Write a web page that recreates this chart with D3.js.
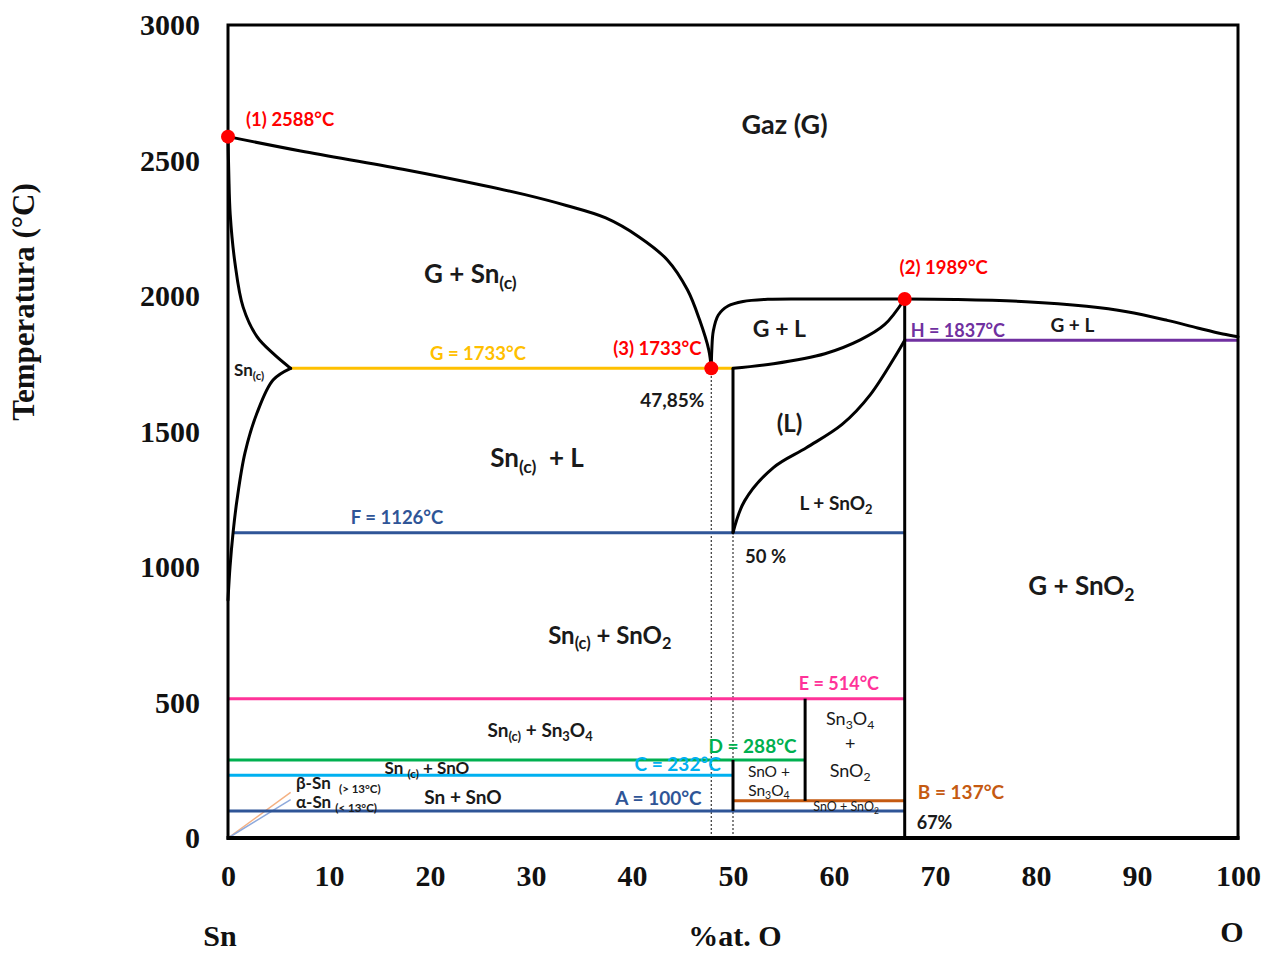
<!DOCTYPE html>
<html>
<head>
<meta charset="utf-8">
<script src="https://cdn.jsdelivr.net/npm/d3@7"></script>
<style>
  html, body { margin: 0; padding: 0; background: #fff; }
  svg { display: block; }
  text { white-space: pre; }
</style>
</head>
<body>
<svg id="chart" width="1272" height="956"></svg>
<script>
// ---- axis ticks ----
const xTicks = [0, 10, 20, 30, 40, 50, 60, 70, 80, 90, 100];
const yTicks = [0, 500, 1000, 1500, 2000, 2500, 3000];

// ---- invariant points: composition (%at. O), temperature (°C) ----
const invariantPoints = [
  { id: 1, x: 0, t: 2588 },
  { id: 2, x: 67, t: 1989 },
  { id: 3, x: 47.85, t: 1733 }
];

// ---- isotherms: temperature and composition span ----
const isotherms = [
  { name: "A", t: 100,  x0: 0,    x1: 67 },
  { name: "B", t: 137,  x0: 50,   x1: 67 },
  { name: "C", t: 232,  x0: 0,    x1: 50 },
  { name: "D", t: 288,  x0: 0,    x1: 57.14 },
  { name: "E", t: 514,  x0: 0,    x1: 67 },
  { name: "F", t: 1126, x0: 0.5,  x1: 67 },
  { name: "G", t: 1733, x0: 6.2,  x1: 50 },
  { name: "H", t: 1837, x0: 67,   x1: 100 }
];

// ---- phase boundaries, [ %at. O, °C ] ----
const gasSnBoundary = [
  [0, 2588], [7.2, 2535], [17.3, 2468], [25.3, 2408], [29.4, 2374], [33.5, 2334],
  [37.4, 2288], [40.7, 2218], [43.5, 2133], [45.5, 2022], [46.7, 1911], [47.6, 1801], [47.85, 1733]
];
const snUpperBoundary = [
  [0, 2588], [0.08, 2450], [0.22, 2300], [0.69, 2122], [1.49, 1960], [2.87, 1850], [4.46, 1788], [6.2, 1733]
];
const snLowerBoundary = [
  [6.2, 1733], [4.46, 1690], [2.87, 1568], [1.68, 1421], [0.89, 1247], [0.5, 1126], [0.2, 1000], [0, 878]
];
const gasLiquidBoundary = [
  [47.85, 1733], [47.9, 1800], [48.05, 1871], [48.55, 1930], [49.55, 1964], [51, 1980], [53.5, 1988],
  [58, 1989], [62, 1989], [67, 1989], [72, 1987], [79, 1979], [85, 1962], [89, 1942], [93, 1910],
  [96, 1882], [98.5, 1860], [100, 1850]
];
const liquidUpperBoundary = [
  [50, 1733], [54, 1750], [59.1, 1787], [62.6, 1838], [65, 1894], [67, 1989]
];
const liquidLowerBoundary = [
  [50, 1126], [51.15, 1244], [54, 1367], [57.3, 1441], [60.8, 1526], [63.6, 1636], [67, 1837]
];

// ---- vertical phase lines (compounds): composition, temperature span ----
const phaseVerticals = [
  { x: 50,    t0: 1126, t1: 1733 },
  { x: 50,    t0: 100,  t1: 288 },
  { x: 57.14, t0: 137,  t1: 514 },
  { x: 67,    t0: 0,    t1: 1989 }
];
const compositionGuides = [
  { x: 47.85, t0: 0, t1: 1733 },
  { x: 50,    t0: 0, t1: 1126 }
];

// ---- layout ----
const margin = { left: 228, top: 25, right: 34, bottom: 118 };
const W = 1272, H = 956;
const iw = W - margin.left - margin.right;   // 1010
const ih = H - margin.top - margin.bottom;   // 813

const x = d3.scaleLinear().domain([0, 100]).range([0, iw]);
const y = d3.scaleLinear().domain([0, 3000]).range([ih, 0]);

const svg = d3.select("#chart");
const g = svg.append("g").attr("transform", `translate(${margin.left},${margin.top})`);

const LABEL_FONT = "Lato, 'Open Sans', sans-serif";
const AXIS_FONT = "'Liberation Serif', 'Times New Roman', serif";

const isoColor = {
  A: "#2F5597", B: "#C55A11", C: "#00B0F0", D: "#00B050",
  E: "#FF3399", F: "#2F5597", G: "#FFC000", H: "#7030A0"
};

// text with subscripts written as _{...}
function richText(sel, str, size) {
  const parts = str.split(/(_\{[^}]*\})/).filter(s => s.length);
  const shift = size * 0.22;
  let lowered = false;
  parts.forEach(p => {
    const m = p.match(/^_\{(.*)\}$/);
    const ts = sel.append("tspan");
    if (m) {
      ts.text(m[1]).attr("font-size", size * 0.68).attr("dy", lowered ? 0 : shift);
      lowered = true;
    } else {
      ts.text(p).attr("dy", lowered ? -shift : 0);
      lowered = false;
    }
  });
}

function label(opts) {
  const t = g.append("text")
    .attr("x", opts.px !== undefined ? opts.px : x(opts.x))
    .attr("y", opts.py !== undefined ? opts.py : y(opts.t))
    .attr("text-anchor", opts.anchor || "middle")
    .attr("font-family", LABEL_FONT)
    .attr("font-weight", opts.weight || "bold")
    .attr("font-size", opts.size)
    .attr("fill", opts.color || "#1a1a1a");
  richText(t, opts.text, opts.size);
  return t;
}

// ---- axes (labels only, frame drawn separately) ----
const yAxis = g.append("g")
  .call(d3.axisLeft(y).tickValues(yTicks).tickSize(0).tickPadding(28).tickFormat(d3.format("d")));
const xAxis = g.append("g").attr("transform", `translate(0,${ih})`)
  .call(d3.axisBottom(x).tickValues(xTicks).tickSize(0).tickPadding(27).tickFormat(d3.format("d")));
[yAxis, xAxis].forEach(a => {
  a.select(".domain").remove();
  a.selectAll("text")
    .attr("font-family", AXIS_FONT)
    .attr("font-weight", "bold")
    .attr("font-size", 30)
    .attr("fill", "#111");
});

// axis titles
svg.append("text")
  .attr("transform", "translate(34,302) rotate(-90)")
  .attr("text-anchor", "middle")
  .attr("font-family", AXIS_FONT).attr("font-weight", "bold").attr("font-size", 31)
  .attr("fill", "#111")
  .text("Temperatura (°C)");
[["Sn", 220, 946], ["%at. O", 735, 946], ["O", 1232, 942]].forEach(([s, px, py]) => {
  svg.append("text")
    .attr("x", px).attr("y", py).attr("text-anchor", "middle")
    .attr("font-family", AXIS_FONT).attr("font-weight", "bold").attr("font-size", 30)
    .attr("fill", "#111")
    .text(s);
});

// ---- dashed composition guides ----
g.selectAll(".guide").data(compositionGuides).join("line")
  .attr("class", "guide")
  .attr("x1", d => x(d.x)).attr("x2", d => x(d.x))
  .attr("y1", d => y(d.t0)).attr("y2", d => y(d.t1))
  .attr("stroke", "#333").attr("stroke-width", 1.2).attr("stroke-dasharray", "2,2");

// ---- leader lines for the tin allotropes ----
const allotropeLeaders = [
  { color: "#F4B183", from: [0, 0], to: [6.2, 168] },
  { color: "#8FAADC", from: [0, 0], to: [6.2, 142] }
];
g.selectAll(".leader").data(allotropeLeaders).join("line")
  .attr("class", "leader")
  .attr("x1", d => x(d.from[0])).attr("y1", d => y(d.from[1]))
  .attr("x2", d => x(d.to[0])).attr("y2", d => y(d.to[1]))
  .attr("stroke", d => d.color).attr("stroke-width", 1.5);

// ---- isotherms ----
g.selectAll(".iso").data(isotherms).join("line")
  .attr("class", "iso")
  .attr("x1", d => x(d.x0)).attr("x2", d => x(d.x1))
  .attr("y1", d => y(d.t)).attr("y2", d => y(d.t))
  .attr("stroke", d => isoColor[d.name]).attr("stroke-width", 3);

// ---- phase boundaries ----
const line = d3.line().x(d => x(d[0])).y(d => y(d[1])).curve(d3.curveCatmullRom.alpha(0.5));
[gasSnBoundary, snUpperBoundary, snLowerBoundary, gasLiquidBoundary, liquidUpperBoundary, liquidLowerBoundary]
  .forEach(pts => {
    g.append("path").attr("d", line(pts))
      .attr("fill", "none").attr("stroke", "#000").attr("stroke-width", 3)
      .attr("stroke-linejoin", "round").attr("stroke-linecap", "round");
  });

g.selectAll(".vert").data(phaseVerticals).join("line")
  .attr("class", "vert")
  .attr("x1", d => x(d.x)).attr("x2", d => x(d.x))
  .attr("y1", d => y(d.t0)).attr("y2", d => y(d.t1))
  .attr("stroke", "#000").attr("stroke-width", 3);

// ---- frame ----
g.append("rect").attr("x", 0).attr("y", 0).attr("width", iw).attr("height", ih)
  .attr("fill", "none").attr("stroke", "#000").attr("stroke-width", 3);
g.append("line").attr("x1", -1.5).attr("x2", iw + 1.5).attr("y1", ih).attr("y2", ih)
  .attr("stroke", "#000").attr("stroke-width", 4);

// ---- invariant points ----
g.selectAll(".pt").data(invariantPoints).join("circle")
  .attr("class", "pt")
  .attr("cx", d => x(d.x)).attr("cy", d => y(d.t)).attr("r", 7)
  .attr("fill", "#FF0000");

const pointLabelOffset = { 1: [18, -11, "start"], 2: [39, -25, "middle"], 3: [-54, -13, "middle"] };
invariantPoints.forEach(p => {
  const [dx, dy, anchor] = pointLabelOffset[p.id];
  label({ px: x(p.x) + dx, py: y(p.t) + dy, anchor, size: 18.5, color: "#FF0000",
          text: `(${p.id}) ${p.t}°C` });
});

// ---- isotherm labels ----
const isoLabelPlace = {
  A: { anchor: "end",    x: 46.9,  dy: -6, size: 19 },
  B: { anchor: "start",  x: 68.3,  dy: -2, size: 19 },
  C: { anchor: "end",    x: 48.8,  dy: -4, size: 19 },
  D: { anchor: "end",    x: 56.3,  dy: -7, size: 19 },
  E: { anchor: "end",    x: 64.46, dy: -9, size: 18 },
  F: { anchor: "middle", x: 16.73, dy: -9, size: 18.5 },
  G: { anchor: "middle", x: 24.75, dy: -8, size: 18.5 },
  H: { anchor: "start",  x: 67.6,  dy: -3, size: 18 }
};
isotherms.forEach(d => {
  const p = isoLabelPlace[d.name];
  label({ px: x(p.x), py: y(d.t) + p.dy, anchor: p.anchor, size: p.size,
          color: isoColor[d.name], text: `${d.name} = ${d.t}°C` });
});

// ---- composition labels ----
const fmtComma = v => String(v).replace(".", ",");
label({ px: x(compositionGuides[0].x) - 7, t: 1590, anchor: "end", size: 19, text: `${fmtComma(compositionGuides[0].x)}%` });
label({ px: x(compositionGuides[1].x) + 12, t: 1015, anchor: "start", size: 18.5, text: `${compositionGuides[1].x} %` });
label({ px: x(phaseVerticals[3].x) + 12, t: 33, anchor: "start", size: 18, text: `${phaseVerticals[3].x}%` });

// ---- phase-field labels ----
const fieldLabels = [
  { text: "Gaz (G)",            x: 55.1,  t: 2598, size: 27 },
  { text: "G + Sn_{(c)}",       x: 24.0,  t: 2048, size: 26 },
  { text: "G + L",              x: 54.6,  t: 1848, size: 23 },
  { text: "G + L",              x: 83.6,  t: 1868, size: 19 },
  { text: "Sn_{(c)}",           x: 0.6,   t: 1705, size: 17, anchor: "start" },
  { text: "(L)",                x: 55.6,  t: 1498, size: 24 },
  { text: "Sn_{(c)}  + L",      x: 30.6,  t: 1369, size: 26 },
  { text: "L + SnO_{2}",        x: 60.2,  t: 1210, size: 19 },
  { text: "G + SnO_{2}",        x: 84.5,  t: 897,  size: 26 },
  { text: "Sn_{(c)} + SnO_{2}", x: 37.8,  t: 716,  size: 24 },
  { text: "Sn_{(c)} + Sn_{3}O_{4}", x: 30.9, t: 373, size: 19 },
  { text: "Sn_{3}O_{4}",        x: 61.6,  t: 417,  size: 18, weight: "normal" },
  { text: "+",                  x: 61.6,  t: 325,  size: 18, weight: "normal" },
  { text: "SnO_{2}",            x: 61.6,  t: 225,  size: 18, weight: "normal" },
  { text: "Sn _{(c)} + SnO",    x: 19.7,  t: 236,  size: 17 },
  { text: "SnO +",              x: 53.56, t: 225,  size: 15.5, weight: "normal" },
  { text: "Sn_{3}O_{4}",        x: 53.56, t: 155,  size: 15.5, weight: "normal" },
  { text: "β-Sn  _{(> 13°C)}",  x: 6.73,  t: 181,  size: 17, anchor: "start" },
  { text: "α-Sn _{(< 13°C)}",   x: 6.73,  t: 111,  size: 17, anchor: "start" },
  { text: "Sn + SnO",           x: 23.27, t: 126,  size: 19 },
  { text: "SnO + SnO_{2}",      x: 61.2,  t: 100,  size: 12.5, weight: "normal" }
];
fieldLabels.forEach(d => label(d));
</script>
</body>
</html>
